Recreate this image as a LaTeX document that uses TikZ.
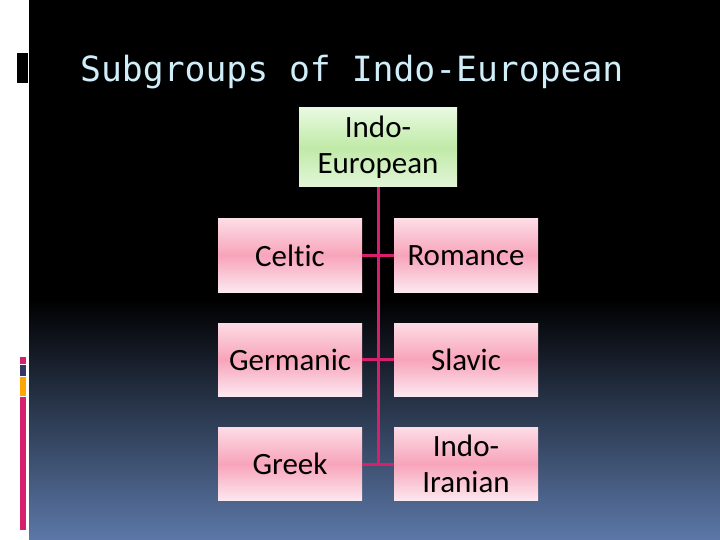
\documentclass[tikz,border=0pt]{standalone}
\usepackage{fontspec}
\setmainfont[Ligatures=NoCommon]{Carlito}
\newfontfamily\titlefont{DejaVu Sans Mono}
\definecolor{titleblue}{RGB}{208,238,250}
\definecolor{linkpink}{RGB}{214,32,110}
\definecolor{bgblue}{RGB}{92,120,168}
\definecolor{leaftop}{RGB}{252,220,229}
\definecolor{leafmid}{RGB}{248,164,186}
\definecolor{leafbot}{RGB}{252,232,240}
\definecolor{roottop}{RGB}{232,249,224}
\definecolor{rootmid}{RGB}{192,234,168}
\definecolor{rootbot}{RGB}{226,246,216}
\tikzset{
  leaf/.style={shade, top color=leaftop, bottom color=leafbot, middle color=leafmid,
    minimum width=144pt, minimum height=73pt, inner sep=0pt,
    align=center, font=\fontsize{31}{36}\selectfont},
  root/.style={leaf, top color=roottop, bottom color=rootbot, middle color=rootmid,
    minimum width=158pt, minimum height=79pt},
  link/.style={draw=linkpink, line width=3pt}
}
\begin{document}
\begin{tikzpicture}[x=1pt, y=-1pt]
  \useasboundingbox (0,0) rectangle (720,540);

  %% backdrop
  \fill[white] (0,0) rectangle (720,540);
  \fill[black] (29,0) rectangle (720,300);
  \shade[top color=black, bottom color=bgblue] (29,300) rectangle (720,540);

  %% side marks
  \fill[black] (17,53) rectangle (28,83);
  \fill[linkpink] (20,357) rectangle (26,364);
  \fill[gray!70!blue!60!black] (20,365) rectangle (26,376);
  \fill[orange!70!yellow] (20,377) rectangle (26,396);
  \fill[linkpink] (20,397) rectangle (26,530);

  %% title
  \node[anchor=base west, text=titleblue, font=\titlefont\fontsize{34.7}{38}\selectfont,
    inner sep=0pt] (title) at (80,82) {Subgroups of Indo-European};

  %% root
  \node[root] (ie) at (378,147.5) {Indo-\\European};

  %% L1
  \node[leaf] (celtic) at (290,255.5) {Celtic};
  \node[leaf] (romance) at (466,255.5) {Romance};

  %% L2
  \node[leaf] (germanic) at (290,359.5) {Germanic};
  \node[leaf] (slavic) at (466,359.5) {Slavic};

  %% L3
  \node[leaf] (greek) at (290,464) {Greek};
  \node[leaf] (indoir) at (466,464) {Indo-\\Iranian};

  %% links
  \draw[link] (ie.south) -- (ie.south |- greek.east);
  \draw[link] (celtic.east) -- (romance.west);
  \draw[link] (germanic.east) -- (slavic.west);
  \draw[link] (greek.east) -- (indoir.west);

\end{tikzpicture}
\end{document}
